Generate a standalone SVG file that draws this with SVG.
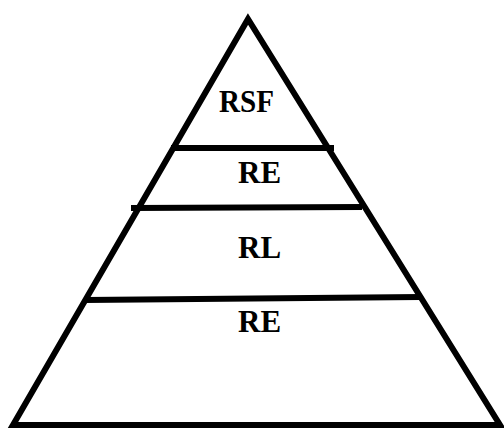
<svg xmlns="http://www.w3.org/2000/svg" width="504" height="428" viewBox="0 0 504 428">
<style>
.ln{stroke:#000;stroke-width:6;fill:none;stroke-linecap:butt}
.lb{font-family:"Liberation Serif","Times New Roman",serif;font-weight:bold;font-size:31px;fill:#000}
</style>
<rect width="504" height="428" fill="#fff"/>
<g id="pyramid">
<polygon class="ln" points="248,19 13,425 500,425" stroke-linejoin="miter"/>
</g>
<g id="dividers">
<line class="ln" x1="171" y1="148" x2="334" y2="148"/>
<line class="ln" x1="131" y1="208" x2="362" y2="207"/>
<line class="ln" x1="85" y1="300" x2="421" y2="297"/>
</g>
<g id="level-rsf"><text class="lb" x="219" y="112" font-size="32" textLength="55" lengthAdjust="spacingAndGlyphs">RSF</text></g>
<g id="level-re1"><text class="lb" x="238" y="183">RE</text></g>
<g id="level-rl"><text class="lb" x="238" y="258">RL</text></g>
<g id="level-re2"><text class="lb" x="238" y="332">RE</text></g>
</svg>
